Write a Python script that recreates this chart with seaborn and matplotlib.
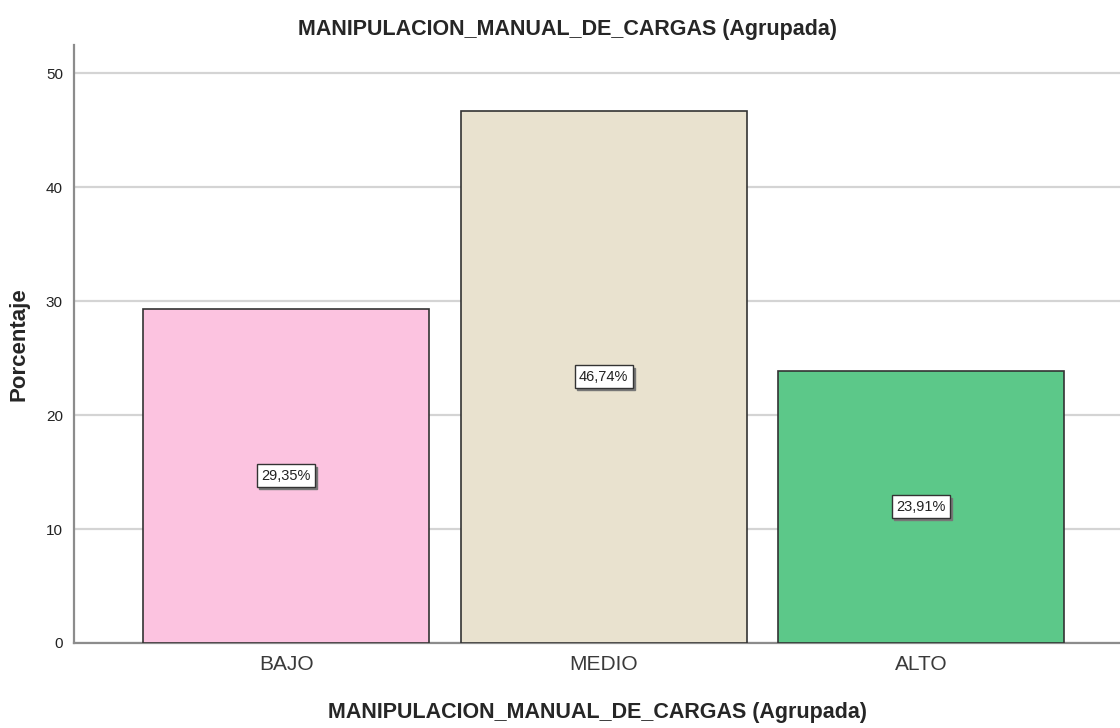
import matplotlib
matplotlib.use("Agg")
import matplotlib.pyplot as plt
import seaborn as sns
import pandas as pd

categories = ["BAJO", "MEDIO", "ALTO"]
values = [29.35, 46.74, 23.91]
labels = ["29,35%", "46,74%", "23,91%"]
colors = ["#FCC3E0", "#E9E2CF", "#5CC889"]

sns.set_style("white")
plt.rcParams['font.family'] = ['Liberation Sans', 'DejaVu Sans']

df = pd.DataFrame({"cat": categories, "val": values})

fig = plt.figure(figsize=(11.2, 7.28), dpi=100)
ax = fig.add_axes([74/1120, 1-643/728, (1120-74)/1120, (643-45)/728])

sns.barplot(data=df, x="cat", y="val", hue="cat", palette=colors, legend=False,
            width=0.9, edgecolor="#333333", linewidth=1.2, saturation=1, ax=ax, zorder=3)

ax.set_xlim(-0.668, 2.626)
ax.set_ylim(0, 52.5)
ax.set_yticks([0, 10, 20, 30, 40, 50])
ax.yaxis.grid(True, color="#D4D4D4", linewidth=1.6, zorder=0)
ax.set_axisbelow(True)
for s in ["top", "right"]:
    ax.spines[s].set_visible(False)
for s in ["left", "bottom"]:
    ax.spines[s].set_color("#8C8C8C")
    ax.spines[s].set_linewidth(1.6)
ax.tick_params(axis="y", length=0, labelsize=11, pad=8, labelcolor="#222222")
ax.tick_params(axis="x", length=0, labelsize=15, pad=9, labelcolor="#3A3A3A")

for i, (v, t) in enumerate(zip(values, labels)):
    # shadow box
    ax.annotate(t, (i, v / 2), xytext=(1.5, -1.5), textcoords="offset points",
                ha="center", va="center", fontsize=10.5, color="none",
                bbox=dict(boxstyle="square,pad=0.3", facecolor="#777777", edgecolor="#777777", linewidth=1),
                zorder=4)
    ax.text(i, v / 2, t, ha="center", va="center", fontsize=10.5, color="#222222",
            bbox=dict(boxstyle="square,pad=0.3", facecolor="white", edgecolor="#333333", linewidth=1),
            zorder=5)

ax.set_xlabel("MANIPULACION_MANUAL_DE_CARGAS (Agrupada)", fontsize=15.5, fontweight="bold", labelpad=20)
ax.set_ylabel("Porcentaje", fontsize=16, fontweight="bold", labelpad=12)
fig.text(568/1120, 1 - 29/728, "MANIPULACION_MANUAL_DE_CARGAS (Agrupada)", ha="center", va="center",
         fontsize=15.5, fontweight="bold")

fig.savefig("out.png", dpi=100)
